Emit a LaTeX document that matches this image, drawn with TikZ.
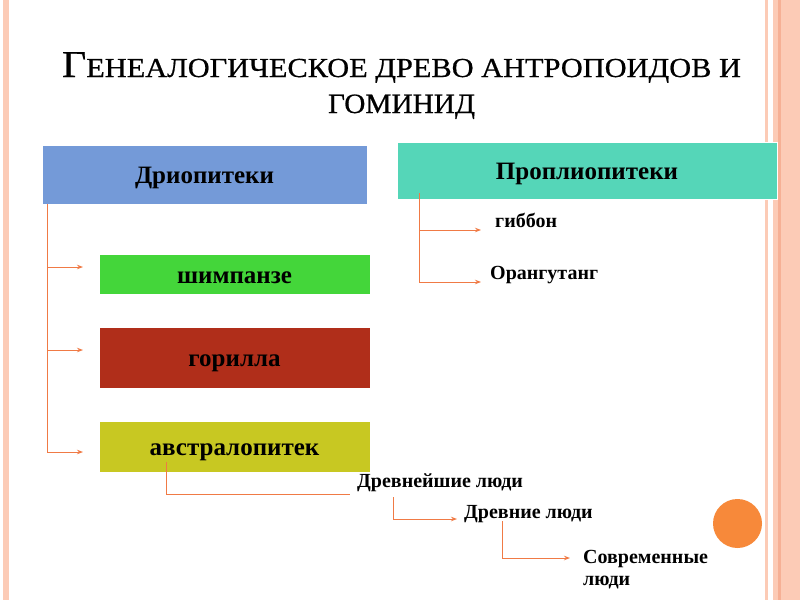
\documentclass[tikz,border=0pt]{standalone}
\usepackage{fontspec}
\setmainfont{Liberation Serif}
\newfontfamily\titlefont[FakeBold=0.6]{Liberation Serif}
\usetikzlibrary{arrows.meta}
\definecolor{drioc}{RGB}{116,154,216}
\definecolor{propc}{RGB}{85,214,184}
\definecolor{shimpc}{RGB}{68,214,58}
\definecolor{gorc}{RGB}{176,46,26}
\definecolor{austrc}{RGB}{200,200,34}
\definecolor{connc}{RGB}{240,122,69}
\definecolor{circc}{RGB}{247,137,58}
\definecolor{stripel}{RGB}{252,203,182}
\definecolor{striped}{RGB}{246,176,149}
\begin{document}
\begin{tikzpicture}[x=1pt,y=-1pt,
  box/.style={draw=white, line width=0.8pt, inner sep=0pt, text height=18pt, text depth=0pt, font=\fontsize{25}{25}\bfseries\selectfont},
  lbl/.style={anchor=base west, inner sep=0pt, font=\fontsize{20}{22}\bfseries\selectfont},
  conn/.style={draw=connc, line width=1pt},
  arr/.style={conn, -{Stealth[length=6pt,width=4.5pt]}}]
\useasboundingbox (0,0) rectangle (800,600);
\fill[white] (0,0) rectangle (800,600);
% borders
\fill[stripel] (3,0) rectangle (9,600);
\fill[stripel] (765,0) rectangle (767.5,600);
\fill[stripel] (773,0) rectangle (800,600);
\fill[striped] (778,0) rectangle (781,600);
\fill[circc] (737.5,523.5) circle (24.5);
% title
\node[anchor=base, inner sep=0pt] (t1) at (401.5,77) {\resizebox{679pt}{\height}{\titlefont\fontsize{38}{38}\selectfont Г\fontsize{27.5}{27.5}\selectfont ЕНЕАЛОГИЧЕСКОЕ ДРЕВО АНТРОПОИДОВ И}};
\node[anchor=base, inner sep=0pt] (t2) at (401.5,113) {\resizebox{147pt}{\height}{\titlefont\fontsize{28}{28}\selectfont ГОМИНИД}};
% boxes
\node[box, fill=drioc, minimum width=325pt, minimum height=59pt] (drio) at (204.5,174.5) {Дриопитеки};
\node[box, fill=propc, minimum width=380pt, minimum height=57pt] (prop) at (587,170.5) {Проплиопитеки};
\node[box, fill=shimpc, minimum width=271pt, minimum height=40pt] (shimp) at (234.5,274) {шимпанзе};
\node[box, fill=gorc, minimum width=271pt, minimum height=61pt] (gor) at (234.5,357.5) {горилла};
\node[box, fill=austrc, minimum width=271pt, minimum height=51pt] (austr) at (234.5,446.5) {австралопитек};
% labels
\node[lbl] (gib) at (495,227) {гиббон};
\node[lbl] (orang) at (490,279) {Орангутанг};
\node[lbl] (drevn1) at (357,487) {Древнейшие люди};
\node[lbl] (drevn2) at (464,518) {Древние люди};
\node[lbl, align=left] (sovr) at (583,585) {Современные\\люди};
% connector points
\coordinate (lt) at (47,204);
\coordinate (a1) at (83,267);
\coordinate (a2) at (83,350);
\coordinate (a3) at (83,452);
\coordinate (rt) at (419,193);
\coordinate (b1) at (481,230);
\coordinate (b2) at (481,282);
\coordinate (c0) at (166,462);
\coordinate (c1) at (350,494);
\coordinate (d0) at (393,497);
\coordinate (d1) at (457,519);
\coordinate (e0) at (502,521);
\coordinate (e1) at (570,558);
\draw[arr] (lt) |- (a1);
\draw[arr] (lt) |- (a2);
\draw[arr] (lt) |- (a3);
\draw[arr] (rt) |- (b1);
\draw[arr] (rt) |- (b2);
\draw[conn] (c0) |- (c1);
\draw[arr] (d0) |- (d1);
\draw[arr] (e0) |- (e1);
\end{tikzpicture}
\end{document}
